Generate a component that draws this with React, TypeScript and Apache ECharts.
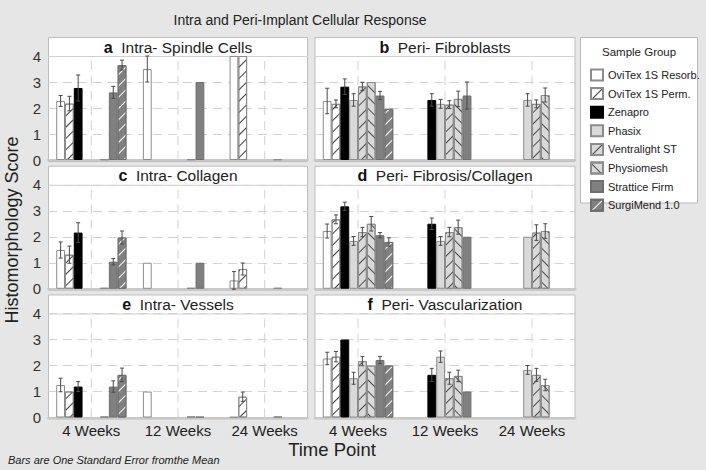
import React, { useEffect, useRef } from 'react';
import * as echarts from 'echarts';

const times = ['4 Weeks', '12 Weeks', '24 Weeks'];
const groups = [
  'OviTex 1S Resorb.',
  'OviTex 1S Perm.',
  'Zenapro',
  'Phasix',
  'Ventralight ST',
  'Physiomesh',
  'Strattice Firm',
  'SurgiMend 1.0',
];

// means[group][time], errs[group][time]; null = no bar
const spindleMeans = [
  [2.27, 3.5, 4.0],
  [2.17, null, 4.0],
  [2.77, null, null],
  [null, null, null],
  [null, null, null],
  [0.03, 0.03, 0.03],
  [2.6, 3.0, null],
  [3.65, null, null],
];
const spindleErrs = [
  [0.21, 0.5, 0],
  [0.28, 0, 0],
  [0.5, 0, 0],
  [0, 0, 0],
  [0, 0, 0],
  [0, 0, 0],
  [0.23, 0, 0],
  [0.19, 0, 0],
];

const fibroblastMeans = [
  [2.27, null, null],
  [2.16, null, null],
  [2.82, 2.31, null],
  [2.31, 2.16, 2.31],
  [2.83, 2.13, 2.16],
  [3.0, 2.35, 2.5],
  [2.48, 2.48, null],
  [1.97, null, null],
];
const fibroblastErrs = [
  [0.49, 0, 0],
  [0.15, 0, 0],
  [0.3, 0.24, 0],
  [0.24, 0.17, 0.24],
  [0.16, 0.15, 0.15],
  [0, 0.3, 0.27],
  [0.16, 0.52, 0],
  [0, 0, 0],
];

const collagenMeans = [
  [1.49, 1.0, 0.32],
  [1.31, null, 0.76],
  [2.16, null, null],
  [null, null, null],
  [null, null, null],
  [0.03, 0.03, 0.03],
  [1.04, 1.0, null],
  [1.97, null, null],
];
const collagenErrs = [
  [0.31, 0, 0.34],
  [0.33, 0, 0.23],
  [0.38, 0, 0],
  [0, 0, 0],
  [0, 0, 0],
  [0, 0, 0],
  [0.12, 0, 0],
  [0.25, 0, 0],
];

const fibrosisMeans = [
  [2.22, null, null],
  [2.67, null, null],
  [3.17, 2.5, null],
  [1.84, 1.84, 2.0],
  [2.18, 2.18, 2.16],
  [2.5, 2.37, 2.22],
  [2.06, 2.0, null],
  [1.8, null, null],
];
const fibrosisErrs = [
  [0.27, 0, 0],
  [0.17, 0, 0],
  [0.16, 0.22, 0],
  [0.17, 0.17, 0],
  [0.18, 0.18, 0.3],
  [0.28, 0.27, 0.28],
  [0.1, 0, 0],
  [0.16, 0, 0],
];

const vesselMeans = [
  [1.25, 1.0, 0.02],
  [1.0, null, 0.8],
  [1.19, null, null],
  [null, null, null],
  [null, null, null],
  [0.03, 0.03, 0.03],
  [1.19, 0.03, null],
  [1.64, null, null],
];
const vesselErrs = [
  [0.26, 0, 0],
  [0, 0, 0.18],
  [0.19, 0, 0],
  [0, 0, 0],
  [0, 0, 0],
  [0, 0, 0],
  [0.22, 0, 0],
  [0.26, 0, 0],
];

const vascMeans = [
  [2.27, null, null],
  [2.34, null, null],
  [3.0, 1.64, null],
  [1.51, 2.34, 1.83],
  [2.17, 1.51, 1.64],
  [2.0, 1.6, 1.25],
  [2.21, 1.0, null],
  [2.0, null, null],
];
const vascErrs = [
  [0.24, 0, 0],
  [0.2, 0, 0],
  [0, 0.25, 0],
  [0.23, 0.22, 0.17],
  [0.18, 0.23, 0.25],
  [0, 0.22, 0.22],
  [0.14, 0, 0],
  [0, 0, 0],
];

const yTicks = [0, 1, 2, 3, 4];

const FONT = '"Liberation Sans", Arial, sans-serif';

const panels = [
  { letter: 'a', title: 'Intra- Spindle Cells', means: spindleMeans, errs: spindleErrs },
  { letter: 'b', title: 'Peri- Fibroblasts', means: fibroblastMeans, errs: fibroblastErrs },
  { letter: 'c', title: 'Intra- Collagen', means: collagenMeans, errs: collagenErrs },
  { letter: 'd', title: 'Peri- Fibrosis/Collagen', means: fibrosisMeans, errs: fibrosisErrs },
  { letter: 'e', title: 'Intra- Vessels', means: vesselMeans, errs: vesselErrs },
  { letter: 'f', title: 'Peri- Vascularization', means: vascMeans, errs: vascErrs },
];

// dir = 1 -> "/" lines, dir = -1 -> "\" lines
const hatch = (dir: number, color: string) => ({
  symbol: 'rect',
  symbolSize: 1,
  dashArrayX: [1, 0],
  dashArrayY: [0.9, 7],
  rotation: (-dir * Math.PI) / 4,
  color,
});

const groupStyles: any[] = [
  { color: '#ffffff', borderColor: '#8c8c8c', borderWidth: 1 },
  { color: '#ffffff', borderColor: '#8c8c8c', borderWidth: 1, decal: hatch(1, '#3a3a3a') },
  { color: '#000000', borderColor: '#000000', borderWidth: 1 },
  { color: '#d9d9d9', borderColor: '#8c8c8c', borderWidth: 1 },
  { color: '#d9d9d9', borderColor: '#8c8c8c', borderWidth: 1, decal: hatch(1, '#4a4a4a') },
  { color: '#d9d9d9', borderColor: '#8c8c8c', borderWidth: 1, decal: hatch(-1, '#4a4a4a') },
  { color: '#808080', borderColor: '#6e6e6e', borderWidth: 1 },
  { color: '#808080', borderColor: '#6e6e6e', borderWidth: 1, decal: hatch(1, '#ffffff') },
];

const CAT_GAP = 0.19;

function buildOption() {
  const grid: any[] = [];
  const xAxis: any[] = [];
  const yAxis: any[] = [];
  const series: any[] = [];
  const graphic: any[] = [];

  panels.forEach((p, i) => {
    const col = i % 2;
    const row = Math.floor(i / 2);
    const left = col ? 314.5 : 48;
    const width = col ? 261 : 260;
    const top = 56 + row * 128.75;
    const height = 104;
    grid.push({ left, top, width, height, containLabel: false });

    xAxis.push({
      type: 'category',
      gridIndex: i,
      data: times,
      axisLine: { show: true, lineStyle: { color: '#c8c8c8', width: 2 } },
      axisTick: { show: false },
      axisLabel: { show: row === 2, fontSize: 15, color: '#222', margin: 5, fontFamily: FONT, lineHeight: 15 },
      splitLine: { show: false },
    });
    yAxis.push({
      type: 'value',
      gridIndex: i,
      min: 0,
      max: 4,
      interval: 1,
      axisLine: { show: false },
      axisTick: { show: false },
      axisLabel: {
        show: col === 0,
        fontSize: 15,
        color: '#333',
        margin: 7,
        fontFamily: FONT,
        formatter: (v: number) => (yTicks.includes(v) ? String(v) : ''),
      },
      splitLine: { show: true, lineStyle: { color: '#d2d2d2', type: [9, 6], width: 1 } },
    });

    // vertical dashed lines at category centers
    series.push({
      type: 'custom',
      xAxisIndex: i,
      yAxisIndex: i,
      silent: true,
      z: 1,
      data: times.map((_, t) => [t, 0]),
      renderItem: (params: any, api: any) => {
        const t = api.value(0);
        const a = api.coord([t, 0]);
        const b = api.coord([t, 4]);
        return {
          type: 'line',
          shape: { x1: a[0], y1: a[1], x2: b[0], y2: b[1] },
          style: { stroke: '#d2d2d2', lineWidth: 1, lineDash: [9, 6] },
        };
      },
    });

    groups.forEach((g, gi) => {
      series.push({
        type: 'bar',
        name: g,
        xAxisIndex: i,
        yAxisIndex: i,
        silent: true,
        z: 2,
        barGap: '0%',
        barCategoryGap: CAT_GAP * 100 + '%',
        itemStyle: groupStyles[gi],
        data: p.means[gi].map((v: number | null) => (v == null ? '-' : v)),
      });
    });

    const errData: any[] = [];
    p.means.forEach((arr: (number | null)[], gi: number) => {
      arr.forEach((m, t) => {
        const e = p.errs[gi][t];
        if (m != null && e > 0) errData.push([t, gi, m, e]);
      });
    });
    series.push({
      type: 'custom',
      xAxisIndex: i,
      yAxisIndex: i,
      silent: true,
      z: 4,
      encode: { x: 0, y: 2 },
      data: errData,
      renderItem: (params: any, api: any) => {
        const t = api.value(0);
        const slot = api.value(1);
        const m = api.value(2);
        const e = api.value(3);
        const band = api.size([1, 0])[0];
        const bw = (band * (1 - CAT_GAP)) / 8;
        const cx = api.coord([t, m])[0] + (slot - 3.5) * bw;
        const yTop = api.coord([t, Math.min(4, m + e)])[1];
        const yBot = api.coord([t, m - e])[1];
        const cap = 2;
        const st = { stroke: '#4a4a4a', lineWidth: 1 };
        return {
          type: 'group',
          children: [
            { type: 'line', shape: { x1: cx, y1: yTop, x2: cx, y2: yBot }, style: st },
            { type: 'line', shape: { x1: cx - cap, y1: yTop, x2: cx + cap, y2: yTop }, style: st },
            { type: 'line', shape: { x1: cx - cap, y1: yBot, x2: cx + cap, y2: yBot }, style: st },
          ],
        };
      },
    });

    // panel box
    graphic.push({
      type: 'rect',
      z: -10,
      silent: true,
      shape: { x: left + 0.5, y: top - 18.5, width: width - 1, height: height + 20 },
      style: { fill: '#ffffff', stroke: '#bdbdbd', lineWidth: 1 },
    });
    graphic.push({
      type: 'line',
      z: -9,
      silent: true,
      shape: { x1: left + 1, y1: top + 0.5, x2: left + width - 1, y2: top + 0.5 },
      style: { stroke: '#cfcfcf', lineWidth: 1 },
    });
    graphic.push({
      type: 'text',
      z: 10,
      silent: true,
      x: left + width / 2,
      y: top - 9,
      style: {
        text: '{b|' + p.letter + '}  ' + p.title,
        rich: { b: { fontWeight: 'bold', fontSize: 16, fontFamily: FONT, fill: '#111' } },
        fontSize: 15.5,
        fontFamily: FONT,
        fill: '#222',
        align: 'center',
        verticalAlign: 'middle',
      },
    });
  });

  // legend box
  graphic.push({
    type: 'rect',
    z: -10,
    silent: true,
    shape: { x: 580.5, y: 37.5, width: 117, height: 165.5 },
    style: { fill: '#ffffff', stroke: '#b8b8b8', lineWidth: 1 },
  });
  graphic.push({
    type: 'text',
    silent: true,
    x: 602,
    y: 52,
    style: { text: 'Sample Group', fontSize: 11.5, fontFamily: FONT, fill: '#222', verticalAlign: 'middle' },
  });
  // titles
  graphic.push({
    type: 'text',
    silent: true,
    x: 300,
    y: 20,
    style: {
      text: 'Intra and Peri-Implant Cellular Response',
      fontSize: 14,
      fontFamily: FONT,
      fill: '#222',
      align: 'center',
      verticalAlign: 'middle',
    },
  });
  graphic.push({
    type: 'text',
    silent: true,
    x: 12,
    y: 230,
    rotation: Math.PI / 2,
    style: {
      text: 'Histomorphology Score',
      fontSize: 18,
      fontFamily: FONT,
      fill: '#222',
      align: 'center',
      verticalAlign: 'middle',
    },
  });
  graphic.push({
    type: 'text',
    silent: true,
    x: 332,
    y: 449,
    style: {
      text: 'Time Point',
      fontSize: 18.5,
      fontFamily: FONT,
      fill: '#222',
      align: 'center',
      verticalAlign: 'middle',
      lineHeight: 18,
    },
  });
  graphic.push({
    type: 'text',
    silent: true,
    x: 8,
    y: 460,
    style: {
      text: 'Bars are One Standard Error fromthe Mean',
      fontSize: 11,
      fontStyle: 'italic',
      fontFamily: FONT,
      fill: '#222',
      verticalAlign: 'middle',
    },
  });

  return {
    animation: false,
    backgroundColor: '#e6e6e6',
    textStyle: { fontFamily: FONT },
    grid,
    xAxis,
    yAxis,
    series,
    graphic,
    legend: {
      data: groups,
      orient: 'vertical',
      left: 585,
      top: 63.5,
      itemWidth: 12,
      itemHeight: 11,
      itemGap: 5.6,
      icon: 'rect',
      selectedMode: false,
      textStyle: { fontSize: 11, color: '#222', fontFamily: FONT, lineHeight: 11 },
    },
  };
}

export default function App() {
  const ref = useRef<HTMLDivElement>(null);
  useEffect(() => {
    document.body.style.margin = '0';
    const chart = echarts.init(ref.current!, null, { renderer: 'svg' });
    chart.setOption(buildOption() as any);
    return () => chart.dispose();
  }, []);
  return <div ref={ref} style={{ width: 706, height: 470 }} />;
}
